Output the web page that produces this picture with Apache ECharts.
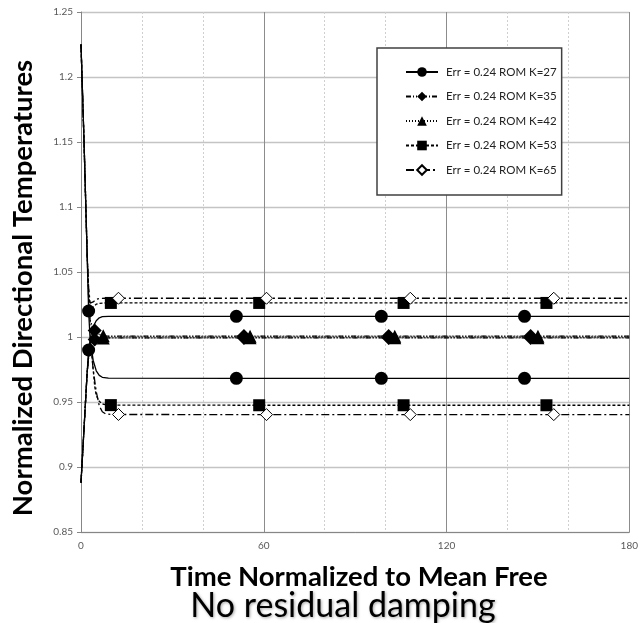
<!DOCTYPE html>
<html>
<head>
<meta charset="utf-8">
<script src="https://cdn.jsdelivr.net/npm/echarts@6/dist/echarts.min.js"></script>
<style>
  html, body { margin: 0; padding: 0; background: #fff; }
  #chart { width: 641px; height: 623px; }
</style>
</head>
<body>
<div id="chart"></div>
<script>
// Axis ticks
const xTicks = [0, 60, 120, 180];
const yTicks = [0.85, 0.9, 0.95, 1, 1.05, 1.1, 1.15, 1.2, 1.25];

// Series names
const seriesNames = [
  'Err = 0.24 ROM K=27',
  'Err = 0.24 ROM K=35',
  'Err = 0.24 ROM K=42',
  'Err = 0.24 ROM K=53',
  'Err = 0.24 ROM K=65'
];

// Each K has two directional temperature traces: [time, normalized temperature]
const k27A = [[0,0.888],[1,0.93],[2,0.972],[2.5,0.99],[3,0.998],[3.5,1.004],[4,1.008],[5,1.0125],[6,1.0148],[7,1.0156],[9,1.0159],[180,1.0159]];
const k27B = [[0,1.225],[1,1.15],[2,1.065],[2.5,1.02],[3,0.998],[3.5,0.99],[4,0.982],[5,0.974],[6,0.9705],[7,0.969],[9,0.9683],[180,0.9682]];
const k35A = [[0,1.225],[1,1.15],[2,1.065],[2.5,1.03],[3,1.012],[3.5,1.007],[4.5,1.005],[6,1.002],[8,1.0007],[180,1.0007]];
const k35B = [[0,0.888],[1,0.93],[2,0.972],[2.5,0.985],[3,0.992],[4,0.997],[5,0.9988],[7,0.9993],[180,0.9993]];
const k42A = [[0,1.225],[1,1.15],[2,1.065],[2.5,1.03],[3,1.013],[4,1.006],[5,1.003],[7,1.001],[9,1.0005],[180,1.0005]];
const k42B = [[0,0.888],[1,0.93],[2,0.972],[2.5,0.986],[3,0.993],[4,0.997],[6,0.9992],[180,0.9995]];
const k53A = [[0,1.225],[1,1.15],[2,1.065],[2.5,1.035],[3,1.022],[3.5,1.021],[4,1.023],[5,1.0252],[6,1.0259],[8,1.0262],[180,1.0262]];
const k53B = [[0,0.888],[1,0.93],[2,0.972],[2.5,0.985],[3,0.99],[3.5,0.988],[4,0.975],[4.5,0.962],[5,0.955],[6,0.9505],[7,0.9485],[9,0.9476],[180,0.9475]];
const k65A = [[0,1.225],[1,1.15],[2,1.065],[2.5,1.038],[3,1.026],[3.5,1.025],[4,1.027],[5,1.029],[6,1.0296],[8,1.0298],[180,1.0298]];
const k65B = [[0,0.888],[1,0.93],[2,0.972],[2.5,0.985],[3,0.99],[3.5,0.987],[4,0.975],[5,0.958],[6,0.947],[7,0.9425],[8,0.941],[10,0.9404],[180,0.9403]];

// Marked samples on each trace
const k27AMarks = [[2.5,0.99],[51,1.0159],[98.6,1.0159],[145.6,1.0159]];
const k27BMarks = [[2.5,1.02],[51,0.9682],[98.6,0.9682],[145.6,0.9682]];
const k35AMarks = [[4.5,1.005],[53.5,1.0007],[101,1.0007],[147.6,1.0007]];
const k35BMarks = [[4.5,0.998],[53.5,0.9993],[101,0.9993],[147.6,0.9993]];
const k42AMarks = [[7.3,1.001],[55.5,1.0005],[103,1.0005],[150,1.0005]];
const k42BMarks = [[7.3,0.9993],[55.5,0.9995],[103,0.9995],[150,0.9995]];
const k53AMarks = [[9.8,1.0262],[58.5,1.0262],[105.9,1.0262],[152.8,1.0262]];
const k53BMarks = [[9.8,0.9476],[58.5,0.9475],[105.9,0.9475],[152.8,0.9475]];
const k65AMarks = [[12.3,1.0298],[60.9,1.0298],[108.1,1.0298],[155.2,1.0298]];
const k65BMarks = [[12.3,0.9404],[60.9,0.9403],[108.1,0.9403],[155.2,0.9403]];

// Line / symbol styling per K
const styles = [
  { dash: 'solid',            symbol: 'circle',   size: 13,       fill: '#000' },
  { dash: [5, 2, 1, 2, 1, 2], symbol: 'diamond',  size: [14, 14], fill: '#000' },
  { dash: [1, 2],             symbol: 'triangle', size: 13,       fill: '#000' },
  { dash: [3, 2],             symbol: 'rect',     size: 12,       fill: '#000' },
  { dash: [8, 3, 2, 3],       symbol: 'diamond',  size: [12, 12], fill: '#fff' }
];

const traces = [
  [k27A, k27AMarks, k27B, k27BMarks],
  [k35A, k35AMarks, k35B, k35BMarks],
  [k42A, k42AMarks, k42B, k42BMarks],
  [k53A, k53AMarks, k53B, k53BMarks],
  [k65A, k65AMarks, k65B, k65BMarks]
];

// Curve points carry no symbol; marked samples use the series symbol
function buildData(curve, marks) {
  const pts = curve.map(p => ({ value: p, symbol: 'none' }))
    .concat(marks.map(p => ({ value: p })));
  pts.sort((a, b) => a.value[0] - b.value[0]);
  return pts;
}

const series = [];
traces.forEach((t, i) => {
  const st = styles[i];
  [[t[0], t[1]], [t[2], t[3]]].forEach(pair => {
    series.push({
      name: seriesNames[i],
      type: 'line',
      data: buildData(pair[0], pair[1]),
      showSymbol: true,
      symbol: st.symbol,
      symbolSize: st.size,
      itemStyle: { color: st.fill, borderColor: '#000', borderWidth: st.fill === '#fff' ? 1 : 0 },
      lineStyle: { color: '#000', width: 1.3, type: st.dash },
      silent: true,
      z: 3 + i
    });
  });
});

const chart = echarts.init(document.getElementById('chart'), null, { renderer: 'canvas' });
chart.setOption({
  animation: false,
  backgroundColor: '#fff',
  textStyle: { fontFamily: 'Lato, "Open Sans", sans-serif' },
  grid: { left: 81, right: 7, top: 12, bottom: 91, containLabel: false },
  xAxis: {
    type: 'value',
    min: xTicks[0],
    max: xTicks[xTicks.length - 1],
    interval: xTicks[1] - xTicks[0],
    axisLine: { show: true, lineStyle: { color: '#868686', width: 1 } },
    axisTick: { show: false },
    axisLabel: { color: '#595959', fontSize: 10, margin: 9 },
    splitLine: { show: true, lineStyle: { color: '#8c8c8c', width: 1 } },
    minorTick: { show: false, splitNumber: 3 },
    minorSplitLine: { show: true, lineStyle: { color: '#cfcfcf', width: 1, type: [2, 2] } }
  },
  yAxis: {
    type: 'value',
    min: yTicks[0],
    max: yTicks[yTicks.length - 1],
    interval: 0.05,
    axisLine: { show: true, lineStyle: { color: '#868686', width: 1 } },
    axisTick: { show: true, length: 4, lineStyle: { color: '#868686' } },
    axisLabel: {
      color: '#595959', fontSize: 10, margin: 8,
      formatter: v => String(parseFloat(v.toFixed(2)))
    },
    splitLine: { show: true, lineStyle: { color: '#c4c4c4', width: 1.3 } }
  },
  legend: {
    data: seriesNames,
    orient: 'vertical',
    left: 377,
    top: 48,
    padding: [18, 5, 19, 28],
    itemGap: 12.5,
    itemWidth: 32,
    itemHeight: 12,
    backgroundColor: '#fff',
    borderColor: '#404040',
    borderWidth: 1.5,
    textStyle: { fontSize: 11.5, lineHeight: 12, color: '#222', fontFamily: 'Lato, sans-serif', padding: [0, 0, 0, 3] },
    selectedMode: false
  },
  graphic: [
    {
      type: 'text',
      x: 23, y: 288,
      rotation: Math.PI / 2,
      style: {
        text: 'Normalized Directional Temperatures',
        font: 'bold 27.5px Lato, sans-serif',
        fill: '#000',
        align: 'center',
        verticalAlign: 'middle'
      }
    },
    {
      type: 'text',
      x: 359, y: 577,
      style: {
        text: 'Time Normalized to Mean Free',
        font: 'bold 27.5px Lato, sans-serif',
        fill: '#000',
        align: 'center',
        verticalAlign: 'middle'
      }
    },
    {
      type: 'text',
      x: 343, y: 606,
      style: {
        text: 'No residual damping',
        font: '34px Lato, sans-serif',
        fill: '#000',
        align: 'center',
        verticalAlign: 'middle',
        textShadowColor: 'rgba(0,0,0,0.35)',
        textShadowBlur: 3,
        textShadowOffsetX: 1,
        textShadowOffsetY: 1
      }
    }
  ],
  series: series
});
</script>
</body>
</html>
